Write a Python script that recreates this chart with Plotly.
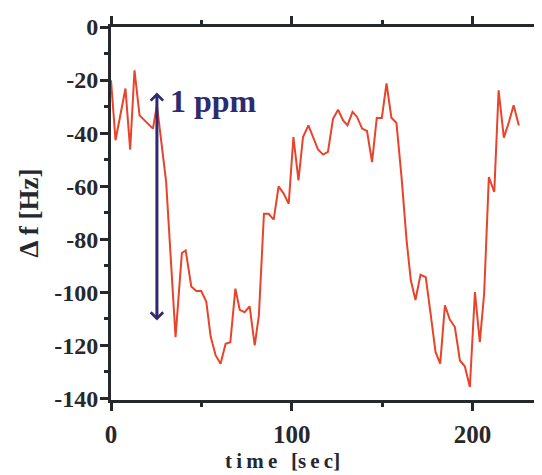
import plotly.graph_objects as go

# données
temps = [0, 2.5, 8.0, 10.6, 13.0, 15.8, 23.2, 25.4, 30.5, 35.7, 39.2, 41.3, 44.4, 47.2, 49.9,
         52.7, 55.1, 57.9, 60.6, 63.4, 66.0, 68.8, 71.2, 73.9, 76.7, 79.5, 81.8, 84.6, 87.2,
         90.0, 92.7, 95.5, 98.3, 100.9, 103.7, 106.2, 109.2, 112.0, 114.5, 117.3, 120.0,
         122.8, 125.6, 128.4, 130.8, 133.6, 136.1, 138.9, 141.6, 144.4, 147.0, 149.8, 152.4,
         155.1, 157.9, 160.7, 163.5, 165.8, 168.4, 171.2, 174.1, 176.9, 179.5, 182.1, 184.7,
         187.4, 190.2, 193.0, 195.7, 198.5, 201.3, 204.0, 206.4, 209.0, 212.0, 214.4, 217.3,
         220.1, 222.7, 225.6]
delta_f = [-20.1, -42.7, -23.2, -46.2, -16.3, -33.3, -38.3, -29.5, -58.4, -116.9, -85.2, -84.2,
           -97.8, -99.5, -99.5, -103.5, -116.6, -123.8, -126.9, -119.4, -118.8, -98.6, -106.6,
           -107.5, -105.3, -120.0, -108.7, -70.4, -70.4, -72.6, -60.1, -62.8, -66.6, -41.5,
           -57.8, -41.5, -37.1, -42.0, -46.2, -48.1, -47.1, -34.6, -31.2, -35.2, -37.1, -32.0,
           -33.9, -38.3, -39.2, -50.9, -34.3, -34.3, -21.3, -34.2, -36.2, -56.6, -80.4, -95.3,
           -102.9, -93.4, -94.3, -108.7, -122.5, -126.9, -104.9, -110.3, -113.1, -125.7, -127.9,
           -135.7, -99.9, -118.8, -100.5, -56.6, -62.2, -23.9, -41.7, -35.8, -29.5, -37.1]

# graduations (tiret simple comme sur l'original)
y_ticks = [0, -20, -40, -60, -80, -100, -120, -140]
y_labels = ['0', '-20', '-40', '-60', '-80', '-100', '-120', '-140']
x_ticks = [0, 100, 200]
x_labels = ['0', '100', '200']

# flèche "1 ppm"
fleche_x = 25.4
fleche_haut = -24.1
fleche_bas = -110.6

AXE = '#25282c'
BLEU = '#2e2a70'
police = 'Liberation Serif'

fig = go.Figure()
fig.add_trace(go.Scatter(x=temps, y=delta_f, mode='lines',
                         line=dict(color='#e8432b', width=2), showlegend=False))

fig.add_annotation(x=fleche_x, y=fleche_bas, ax=fleche_x, ay=fleche_haut,
                   xref='x', yref='y', axref='x', ayref='y', text='',
                   showarrow=True, arrowside='end+start', arrowhead=4, startarrowhead=4,
                   arrowsize=0.8, startarrowsize=0.8, arrowwidth=3, arrowcolor=BLEU,
                   standoff=0, startstandoff=0)
fig.add_annotation(x=fleche_x + 6, y=-28, xref='x', yref='y', text='1 ppm',
                   showarrow=False, xanchor='left', yanchor='middle',
                   font=dict(family=police, size=32, color=BLEU, weight='bold'))

# titres des axes (espaces fines pour l'espacement des lettres)
fig.add_annotation(x=94.7, y=0, xref='x', yref='paper', yshift=-61,
                   text='t\u2009i\u2009m\u2009e\u2009\u2009 [s\u2009e\u2009c]',
                   showarrow=False, xanchor='center', yanchor='middle',
                   font=dict(family=police, size=21, color=AXE, weight='bold'))
fig.add_annotation(x=0, y=0.5, xref='paper', yref='paper', xshift=-83, text='Δ f [Hz]',
                   textangle=-90, showarrow=False, xanchor='center', yanchor='middle',
                   font=dict(family=police, size=27, color=AXE, weight='bold'))

fig.update_xaxes(range=[0, 238.4], showgrid=False, zeroline=False, automargin=False,
                 showline=True, linewidth=3, linecolor=AXE, mirror='ticks',
                 ticks='outside', ticklen=8, tickwidth=3, tickcolor=AXE,
                 tickvals=x_ticks, ticktext=x_labels, ticklabelstandoff=2,
                 tickfont=dict(family=police, size=25, color=AXE, weight='bold'),
                 minor=dict(tick0=0, dtick=50, ticks='outside', ticklen=4, tickwidth=3,
                            tickcolor=AXE))
fig.update_yaxes(range=[-140.6, 0], showgrid=False, zeroline=False, automargin=False,
                 showline=True, linewidth=3, linecolor=AXE,
                 ticks='outside', ticklen=8, tickwidth=3, tickcolor=AXE,
                 tickvals=y_ticks, ticktext=y_labels, ticklabelstandoff=-3,
                 tickfont=dict(family=police, size=24, color=AXE, weight='bold'),
                 minor=dict(tick0=0, dtick=10, ticks='outside', ticklen=4, tickwidth=3,
                            tickcolor=AXE))

# la page ajoute une marge de 8 px : la figure est réduite d'autant
fig.update_layout(width=534, height=467, margin=dict(l=103, r=0, t=19, b=75),
                  plot_bgcolor='white', paper_bgcolor='white')

fig.write_html("out.html")
